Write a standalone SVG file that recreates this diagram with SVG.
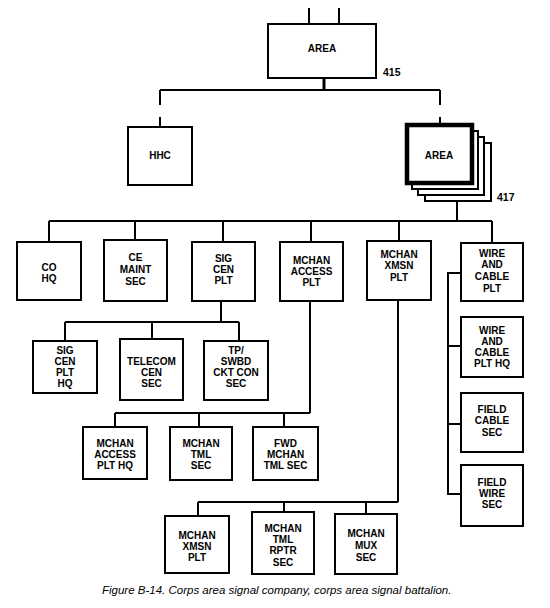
<svg xmlns="http://www.w3.org/2000/svg" width="550" height="608" viewBox="0 0 550 608">
<style>
.box{fill:#fff;stroke:#000;stroke-width:2}
.thick{fill:#fff;stroke:#000;stroke-width:4.5}
.t{font-family:"Liberation Sans",Arial,sans-serif;font-weight:bold;font-size:10px;text-anchor:middle;fill:#000}
.num{font-family:"Liberation Sans",Arial,sans-serif;font-weight:bold;font-size:10.5px;fill:#000}
.cap{font-family:"Liberation Sans",Arial,sans-serif;font-style:italic;font-size:11.5px;fill:#000}
.c{fill:none;stroke:#000;stroke-width:2}
</style>
<rect width="550" height="608" fill="#fff"/>
<g id="connectors" class="c">
<path d="M309 8V24M339 8V24"/>
<path d="M324 78V90" stroke-width="3"/>
<path d="M160 90H440M160 90V105M160 117V127M440 90V105M440 117V125"/>
<path d="M457 201V221M49 221H492M49 221V242M135 221V240M223 221V242M311 221V242M399 221V241M492 221V243"/>
<path d="M221 301V322M65 322H239M65 322V341M152 322V339M239 322V341"/>
<path d="M310 301V413M115 413H310M115 413V427M199 413V427M284 413V427"/>
<path d="M398 300V502M198 502H398M198 502V516M284 502V512M366 502V514"/>
<path d="M461 273H448V494H461M448 346H461M448 424H461"/>
</g>
<g id="area415">
<rect class="box" x="268" y="24" width="108" height="54"/>
<text class="t" x="322" y="52">AREA</text>
<text class="num" x="383" y="76">415</text>
</g>
<g id="hhc">
<rect class="box" x="128" y="127" width="64" height="58"/>
<text class="t" x="160" y="159">HHC</text>
</g>
<g id="area417">
<rect class="box" x="425" y="143" width="66" height="58"/>
<rect class="box" x="418" y="137" width="66" height="58"/>
<rect class="box" x="412" y="131" width="66" height="58"/>
<rect class="thick" x="407" y="125" width="65" height="58"/>
<text class="t" x="439" y="159">AREA</text>
<text class="num" x="497" y="201">417</text>
</g>
<g id="coHq">
<rect class="box" x="17" y="242" width="64" height="58"/>
<text class="t" x="49" y="271">CO</text>
<text class="t" x="49" y="282">HQ</text>
</g>
<g id="ceMaint">
<rect class="box" x="104" y="240" width="63" height="61"/>
<text class="t" x="135.5" y="261">CE</text>
<text class="t" x="135.5" y="273">MAINT</text>
<text class="t" x="135.5" y="285">SEC</text>
</g>
<g id="sigCenPlt">
<rect class="box" x="192" y="242" width="63" height="59"/>
<text class="t" x="223.5" y="262">SIG</text>
<text class="t" x="223.5" y="273">CEN</text>
<text class="t" x="223.5" y="284">PLT</text>
</g>
<g id="mchanAccessPlt">
<rect class="box" x="280" y="242" width="63" height="59"/>
<text class="t" x="311.5" y="264">MCHAN</text>
<text class="t" x="311.5" y="275">ACCESS</text>
<text class="t" x="311.5" y="286">PLT</text>
</g>
<g id="mchanXmsnPlt">
<rect class="box" x="367" y="241" width="64" height="59"/>
<text class="t" x="399" y="258">MCHAN</text>
<text class="t" x="399" y="269">XMSN</text>
<text class="t" x="399" y="281">PLT</text>
</g>
<g id="wireCablePlt">
<rect class="box" x="461" y="243" width="62" height="58"/>
<text class="t" x="492" y="257">WIRE</text>
<text class="t" x="492" y="268">AND</text>
<text class="t" x="492" y="280">CABLE</text>
<text class="t" x="492" y="292">PLT</text>
</g>
<g id="sigCenPltHq">
<rect class="box" x="33" y="341" width="64" height="52"/>
<text class="t" x="65" y="354">SIG</text>
<text class="t" x="65" y="365">CEN</text>
<text class="t" x="65" y="376">PLT</text>
<text class="t" x="65" y="387">HQ</text>
</g>
<g id="telecomCenSec">
<rect class="box" x="120" y="339" width="63" height="61"/>
<text class="t" x="151.5" y="365">TELECOM</text>
<text class="t" x="151.5" y="376">CEN</text>
<text class="t" x="151.5" y="387">SEC</text>
</g>
<g id="tpSwbd">
<rect class="box" x="204" y="341" width="64" height="59"/>
<text class="t" x="236" y="354">TP/</text>
<text class="t" x="236" y="365">SWBD</text>
<text class="t" x="236" y="376">CKT CON</text>
<text class="t" x="236" y="387">SEC</text>
</g>
<g id="wireCablePltHq">
<rect class="box" x="461" y="317" width="62" height="60"/>
<text class="t" x="492" y="334">WIRE</text>
<text class="t" x="492" y="345">AND</text>
<text class="t" x="492" y="356">CABLE</text>
<text class="t" x="492" y="367">PLT HQ</text>
</g>
<g id="mchanAccessPltHq">
<rect class="box" x="83" y="427" width="64" height="52"/>
<text class="t" x="115" y="447">MCHAN</text>
<text class="t" x="115" y="458">ACCESS</text>
<text class="t" x="115" y="469">PLT HQ</text>
</g>
<g id="mchanTmlSec">
<rect class="box" x="170" y="427" width="62" height="53"/>
<text class="t" x="201" y="447">MCHAN</text>
<text class="t" x="201" y="458">TML</text>
<text class="t" x="201" y="469">SEC</text>
</g>
<g id="fwdMchanTmlSec">
<rect class="box" x="253" y="427" width="65" height="53"/>
<text class="t" x="285.5" y="447">FWD</text>
<text class="t" x="285.5" y="458">MCHAN</text>
<text class="t" x="285.5" y="469">TML SEC</text>
</g>
<g id="fieldCableSec">
<rect class="box" x="461" y="393" width="62" height="59"/>
<text class="t" x="492" y="413">FIELD</text>
<text class="t" x="492" y="424">CABLE</text>
<text class="t" x="492" y="436">SEC</text>
</g>
<g id="fieldWireSec">
<rect class="box" x="461" y="465" width="62" height="61"/>
<text class="t" x="492" y="486">FIELD</text>
<text class="t" x="492" y="497">WIRE</text>
<text class="t" x="492" y="508">SEC</text>
</g>
<g id="mchanXmsnPlt2">
<rect class="box" x="165" y="516" width="64" height="57"/>
<text class="t" x="197" y="539">MCHAN</text>
<text class="t" x="197" y="550">XMSN</text>
<text class="t" x="197" y="561">PLT</text>
</g>
<g id="mchanTmlRptrSec">
<rect class="box" x="252" y="512" width="62" height="62"/>
<text class="t" x="283" y="532">MCHAN</text>
<text class="t" x="283" y="543">TML</text>
<text class="t" x="283" y="554">RPTR</text>
<text class="t" x="283" y="566">SEC</text>
</g>
<g id="mchanMuxSec">
<rect class="box" x="335" y="514" width="62" height="60"/>
<text class="t" x="366" y="537">MCHAN</text>
<text class="t" x="366" y="549">MUX</text>
<text class="t" x="366" y="561">SEC</text>
</g>
<text class="cap" x="102" y="594">Figure B-14. Corps area signal company, corps area signal battalion.</text>
</svg>
